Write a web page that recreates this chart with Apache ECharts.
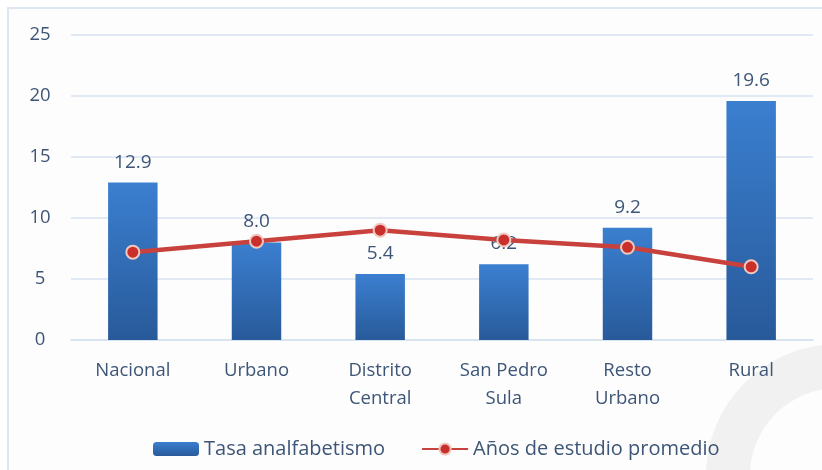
<!DOCTYPE html>
<html><head><meta charset="utf-8">
<script src="https://cdn.jsdelivr.net/npm/echarts@6/dist/echarts.min.js"></script>
<style>html,body{margin:0;padding:0;background:#fff}#c{width:822px;height:470px}</style>
</head><body><div id="c"></div>
<script>
const categories = ['Nacional', 'Urbano', 'Distrito\nCentral', 'San Pedro\nSula', 'Resto\nUrbano', 'Rural'];
const tasaAnalfabetismo = [12.9, 8.0, 5.4, 6.2, 9.2, 19.6];
const aniosEstudio = [7.2, 8.1, 9.0, 8.2, 7.6, 6.0];
const yTicks = [0, 5, 10, 15, 20, 25];

const chart = echarts.init(document.getElementById('c'));
const txt = '#3d5576';
const font = 'Open Sans';
chart.setOption({
  backgroundColor: '#ffffff',
  animation: false,
  graphic: [
    { type: 'rect', z: -10, shape: { x: 8, y: 8, width: 830, height: 480 },
      style: { fill: '#fdfdfe', stroke: '#dde7f3', lineWidth: 2 } },
    { type: 'ring', z: -5, shape: { cx: 838, cy: 476, r: 132, r0: 88 },
      style: { fill: '#f1f1f1' } }
  ],
  grid: { left: 71, right: 9, top: 35, bottom: 130 },
  legend: {
    bottom: 6, left: 148,
    itemWidth: 46, itemHeight: 14, itemGap: 36,
    textStyle: { color: txt, fontFamily: font, fontSize: 20 },
    data: ['Tasa analfabetismo', 'Años de estudio promedio']
  },
  xAxis: {
    type: 'category', data: categories,
    axisLine: { lineStyle: { color: '#d6e2f0', width: 1.5 } },
    axisTick: { show: false },
    axisLabel: { color: txt, fontFamily: font, fontSize: 18.5, lineHeight: 28, margin: 17, interval: 0 }
  },
  yAxis: {
    type: 'value', min: yTicks[0], max: yTicks[yTicks.length - 1], interval: 5,
    axisLine: { show: false }, axisTick: { show: false },
    splitLine: { lineStyle: { color: '#d6e2f0', width: 1.5 } },
    axisLabel: { color: txt, fontFamily: font, fontSize: 18.5, margin: 31, align: 'center' }
  },
  series: [
    {
      name: 'Tasa analfabetismo', type: 'bar', data: tasaAnalfabetismo, barWidth: '40%',
      itemStyle: { color: new echarts.graphic.LinearGradient(0, 0, 0, 1, [
        { offset: 0, color: '#3b7fd0' }, { offset: 1, color: '#285a9a' }]) },
      label: { show: true, position: 'top', distance: 11, color: txt, fontFamily: font, fontSize: 19,
        formatter: p => p.value.toFixed(1) }
    },
    {
      name: 'Años de estudio promedio', type: 'line', data: aniosEstudio,
      symbol: 'circle', symbolSize: 13,
      lineStyle: { color: '#c9413c', width: 4.5 },
      itemStyle: { color: '#c9302c', borderColor: '#f0c8c0', borderWidth: 2 }
    }
  ]
});
</script></body></html>
